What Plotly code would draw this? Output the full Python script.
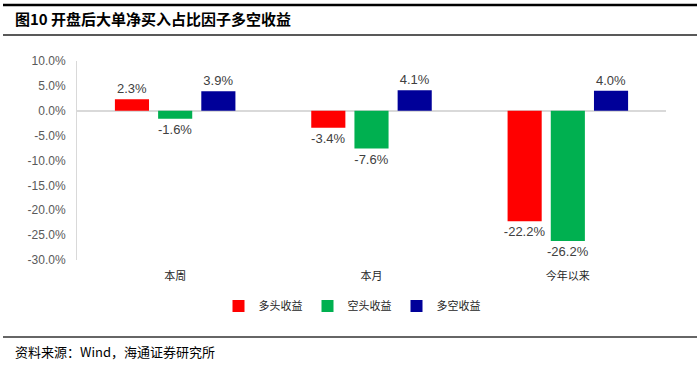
import plotly.graph_objects as go

categories = ["本周", "本月", "今年以来"]
long_ret = [2.3, -3.4, -22.2]
short_ret = [-1.6, -7.6, -26.2]
ls_ret = [3.9, 4.1, 4.0]
series_names = ["多头收益", "空头收益", "多空收益"]
colors = ["#FF0000", "#00B050", "#000099"]
y_ticks = [10, 5, 0, -5, -10, -15, -20, -25, -30]

W, H = 700, 365
L, R, T, B = 77, 34, 61, 105
pw, ph = W - L - R, H - T - B

def px(x):
    return (x - L) / pw

def py(y):
    return (H - B - y) / ph

fig = go.Figure()
for name, vals, col in zip(series_names, [long_ret, short_ret, ls_ret], colors):
    fig.add_trace(go.Bar(
        x=categories, y=vals, name=name,
        marker=dict(color=col, line=dict(width=0)),
        texttemplate="%{y:.1f}%", textposition="outside", constraintext="none",
        textfont=dict(family="Liberation Sans, Arial", size=13, color="#404040"),
        cliponaxis=False,
    ))

fig.update_layout(
    width=W, height=H,
    margin=dict(l=L, r=R, t=T, b=B),
    paper_bgcolor="white", plot_bgcolor="white",
    barmode="group", bargap=0.34, bargroupgap=0.21,
    showlegend=True,
    legend=dict(orientation="h", x=px(352), y=py(306), xanchor="center", yanchor="middle",
                font=dict(family="Noto Sans CJK SC", size=11, color="#262626"),
                itemwidth=30, tracegroupgap=0, traceorder="normal"),
    xaxis=dict(showline=False, showgrid=False, ticks="", ticklabelstandoff=8,
               tickfont=dict(family="Noto Sans CJK SC", size=11, color="#262626")),
    yaxis=dict(range=[-30, 10], tickvals=y_ticks, ticktext=[f"{v:.1f}%" for v in y_ticks],
               showgrid=False, zeroline=True, zerolinecolor="#D9D9D9", zerolinewidth=2,
               showline=True, linecolor="#D9D9D9", linewidth=1, ticks="",
               ticklabelstandoff=8,
               tickfont=dict(family="Liberation Sans, Arial", size=12, color="#595959")),
    font=dict(family="Noto Sans CJK SC"),
)

shapes = [
    dict(type="line", xref="paper", yref="paper", x0=px(3), x1=px(697), y0=py(5), y1=py(5),
         line=dict(color="#000000", width=2.5)),
    dict(type="line", xref="paper", yref="paper", x0=px(3), x1=px(697), y0=py(35), y1=py(35),
         line=dict(color="#222222", width=1.5)),
    dict(type="line", xref="paper", yref="paper", x0=px(3), x1=px(697), y0=py(337), y1=py(337),
         line=dict(color="#333333", width=1.5)),
]
fig.update_layout(shapes=shapes)

fig.add_annotation(text="<b>图10 开盘后大单净买入占比因子多空收益</b>", xref="paper", yref="paper",
                   x=px(13), y=py(19), xanchor="left", yanchor="middle", showarrow=False,
                   font=dict(family="Noto Sans CJK SC", size=15, color="#000000"))
fig.add_annotation(text="资料来源：Wind，海通证券研究所", xref="paper", yref="paper",
                   x=px(13), y=py(351), xanchor="left", yanchor="middle", showarrow=False,
                   font=dict(family="Noto Sans CJK SC", size=13, color="#000000"))

fig.write_html("out.html", config={"displayModeBar": False},
               post_script="document.body.style.margin='0';")
